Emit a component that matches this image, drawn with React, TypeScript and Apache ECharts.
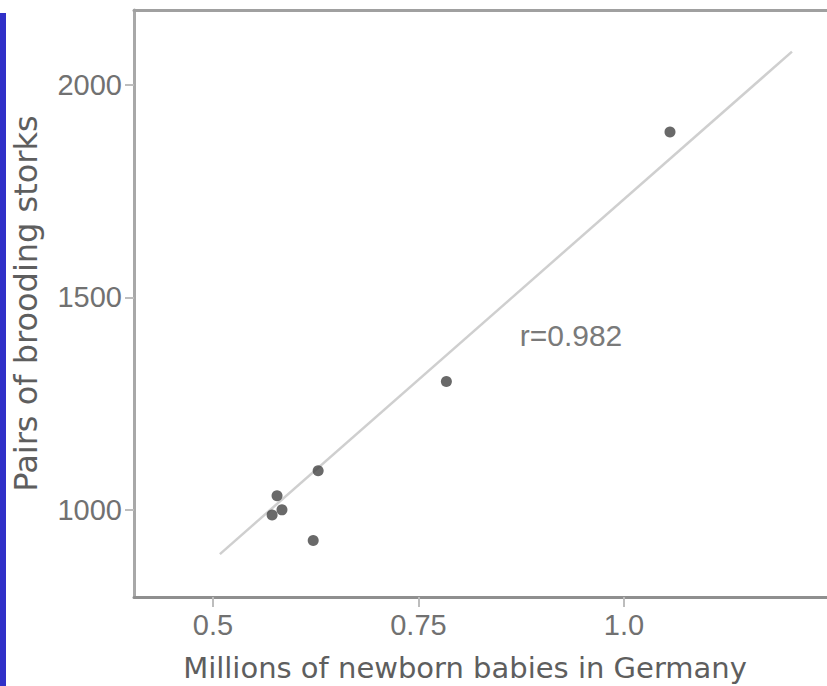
import React, { useEffect, useRef } from "react";
import * as echarts from "echarts";

// Data
const babiesMillions = [1.056, 0.784, 0.628, 0.622, 0.578, 0.572, 0.584];
const storkPairs = [1889, 1302, 1092, 928, 1033, 988, 1000];
const fitLineX = [0.5085, 1.2044];
const fitLineY = [896, 2078];
const xTickValues = [0.5, 0.75, 1.0];
const xTickLabels = ["0.5", "0.75", "1.0"];
const yTickValues = [1000, 1500, 2000];
const yTickLabels = ["1000", "1500", "2000"];
const annotation = "r=0.982";
const xTitle = "Millions of newborn babies in Germany";
const yTitle = "Pairs of brooding storks";

const FONT = "Liberation Sans, Arial, Helvetica, sans-serif";
const TITLE_FONT = "DejaVu Sans, Verdana, sans-serif";

export default function App() {
  const ref = useRef<HTMLDivElement>(null);
  useEffect(() => {
    if (!ref.current) return;
    const chart = echarts.init(ref.current, undefined, { renderer: "svg" });
    const points = babiesMillions.map((x, i) => [x, storkPairs[i]]);
    const fit = fitLineX.map((x, i) => [x, fitLineY[i]]);
    const xLabelFor = (v: number) => {
      const i = xTickValues.findIndex((t) => Math.abs(t - v) < 1e-9);
      return i >= 0 ? xTickLabels[i] : String(v);
    };
    const yLabelFor = (v: number) => {
      const i = yTickValues.findIndex((t) => Math.abs(t - v) < 1e-9);
      return i >= 0 ? yTickLabels[i] : String(v);
    };
    chart.setOption({
      animation: false,
      backgroundColor: "#ffffff",
      grid: { left: 134, right: 0, top: 10, bottom: 89, outerBoundsMode: "none", containLabel: false },
      xAxis: [
        {
          type: "value",
          min: 0.404,
          max: 1.247,
          position: "bottom",
          splitLine: { show: false },
          axisLine: { show: true, lineStyle: { color: "#8f8f8f", width: 3 } },
          axisTick: {
            show: true,
            customValues: xTickValues,
            length: 10,
            lineStyle: { color: "#bdbdbd", width: 2 },
          },
          axisLabel: {
            customValues: xTickValues,
            formatter: xLabelFor,
            color: "#717171",
            fontSize: 29,
            fontFamily: FONT,
            margin: 13,
          },
          name: xTitle,
          nameLocation: "middle",
          nameGap: 56,
          nameTextStyle: {
            color: "#5e5e5e",
            fontSize: 29,
            fontFamily: TITLE_FONT,
            padding: [0, 31, 0, 0],
          },
        },
        {
          type: "value",
          min: 0.404,
          max: 1.247,
          position: "top",
          splitLine: { show: false },
          axisLine: { show: true, lineStyle: { color: "#a0a0a0", width: 3 } },
          axisTick: { show: false },
          axisLabel: { show: false },
        },
      ],
      yAxis: {
        type: "value",
        min: 795,
        max: 2176,
        splitLine: { show: false },
        axisLine: { show: true, lineStyle: { color: "#a8a8a8", width: 3 } },
        axisTick: {
          show: true,
          customValues: yTickValues,
          length: 9,
          lineStyle: { color: "#bdbdbd", width: 2 },
        },
        axisLabel: {
          customValues: yTickValues,
          formatter: yLabelFor,
          color: "#717171",
          fontSize: 29,
          fontFamily: FONT,
          margin: 12,
        },
        name: yTitle,
        nameLocation: "middle",
        nameGap: 92,
        nameRotate: 90,
        nameTextStyle: { color: "#5e5e5e", fontSize: 32, fontFamily: TITLE_FONT },
      },
      series: [
        {
          type: "line",
          data: fit,
          xAxisIndex: 0,
          symbol: "none",
          lineStyle: { color: "#cfcfcf", width: 2.5 },
          silent: true,
          z: 1,
        },
        {
          type: "scatter",
          data: points,
          xAxisIndex: 0,
          symbol: "circle",
          symbolSize: 11,
          itemStyle: { color: "#444444" },
          z: 3,
        },
      ],
      graphic: [
        {
          type: "rect",
          shape: { x: 0, y: 13, width: 6, height: 673 },
          style: { fill: "#3030c8" },
        },
        {
          type: "text",
          x: 571,
          y: 335,
          style: {
            text: annotation,
            fill: "#7a7a7a",
            fontSize: 30,
            fontFamily: FONT,
            align: "center",
            verticalAlign: "middle",
          },
        },
      ],
    });
    return () => chart.dispose();
  }, []);
  return (
    <div
      ref={ref}
      style={{ position: "fixed", left: 0, top: 0, width: 827, height: 686, background: "#fff" }}
    />
  );
}
